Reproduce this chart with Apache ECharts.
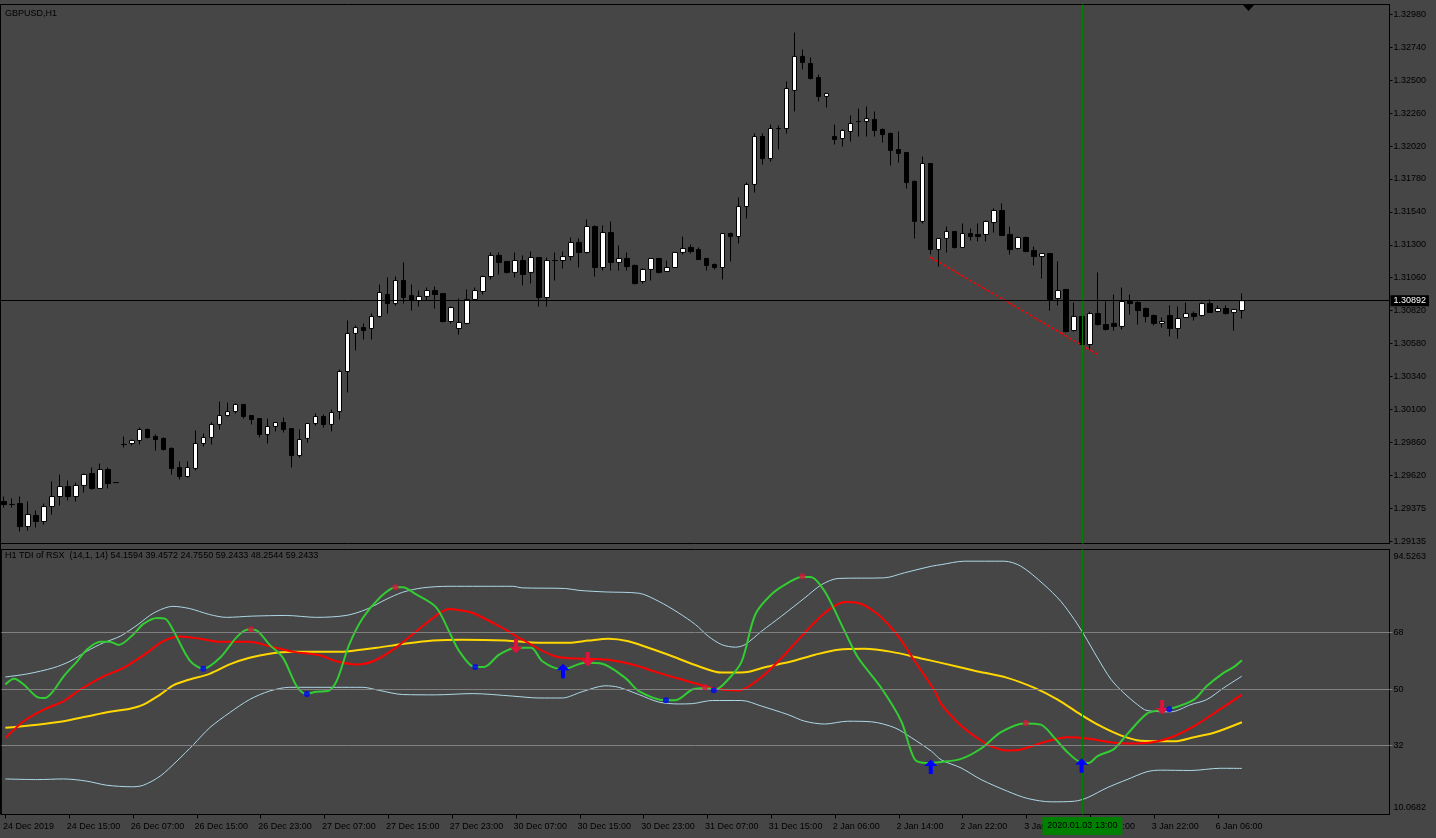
<!DOCTYPE html>
<html>
<head>
<meta charset="utf-8">
<title>GBPUSD,H1</title>
<script src="https://cdn.jsdelivr.net/npm/echarts@6/dist/echarts.min.js"></script>
<style>
  html, body { margin: 0; padding: 0; background: #464646; }
  #chart { width: 1436px; height: 838px; }
</style>
</head>
<body>
<div id="chart"></div>
<script>
// candles: [open, close, low, high]
const candles = [
  [1.29427,1.29405,1.29383,1.29463],[1.29405,1.29405,1.29383,1.29449],[1.29412,1.29244,1.29208,1.29463],[1.29244,1.29332,1.29215,1.29427],
  [1.29325,1.29281,1.29237,1.29361],[1.29281,1.29390,1.29259,1.29412],[1.29390,1.29463,1.29332,1.29573],[1.29463,1.29536,1.29398,1.29624],
  [1.29536,1.29463,1.29434,1.29580],[1.29463,1.29544,1.29427,1.29565],[1.29544,1.29624,1.29492,1.29631],[1.29631,1.29522,1.29514,1.29675],
  [1.29522,1.29660,1.29522,1.29704],[1.29660,1.29558,1.29522,1.29675],[1.29565,1.29565,1.29565,1.29565],[1.29843,1.29843,1.29821,1.29901],
  [1.29850,1.29872,1.29835,1.29879],[1.29872,1.29952,1.29843,1.29967],[1.29952,1.29894,1.29887,1.29959],[1.29901,1.29879,1.29799,1.29916],
  [1.29887,1.29806,1.29799,1.29894],[1.29814,1.29668,1.29624,1.29821],[1.29675,1.29609,1.29587,1.29719],[1.29609,1.29675,1.29602,1.29719],
  [1.29668,1.29850,1.29653,1.29945],[1.29850,1.29894,1.29828,1.29923],[1.29894,1.29989,1.29843,1.30003],[1.29989,1.30054,1.29952,1.30156],
  [1.30054,1.30083,1.30047,1.30149],[1.30083,1.30135,1.30069,1.30142],[1.30135,1.30047,1.30032,1.30135],[1.30054,1.30025,1.29989,1.30054],
  [1.30032,1.29916,1.29894,1.30032],[1.29916,1.29974,1.29850,1.30032],[1.29974,1.30003,1.29938,1.30003],[1.30003,1.29952,1.29930,1.30040],
  [1.29959,1.29762,1.29675,1.29959],[1.29762,1.29879,1.29748,1.29952],[1.29887,1.29996,1.29857,1.29996],[1.29996,1.30047,1.29981,1.30069],
  [1.30047,1.29989,1.29967,1.30061],[1.29989,1.30076,1.29938,1.30098],[1.30083,1.30375,1.30025,1.30390],[1.30375,1.30653,1.30222,1.30747],
  [1.30653,1.30696,1.30529,1.30711],[1.30696,1.30674,1.30609,1.30726],[1.30689,1.30777,1.30609,1.30798],[1.30777,1.30952,1.30769,1.31010],
  [1.30937,1.30871,1.30798,1.31061],[1.30871,1.31039,1.30857,1.31068],[1.31039,1.30915,1.30871,1.31171],[1.30930,1.30893,1.30820,1.31010],
  [1.30893,1.30923,1.30850,1.30966],[1.30923,1.30966,1.30893,1.30988],[1.30966,1.30937,1.30835,1.30995],[1.30944,1.30740,1.30733,1.30944],
  [1.30740,1.30842,1.30726,1.30850],[1.30689,1.30733,1.30645,1.30908],[1.30726,1.30901,1.30718,1.30974],[1.30901,1.30966,1.30893,1.30988],
  [1.30959,1.31068,1.30937,1.31076],[1.31068,1.31222,1.31047,1.31244],[1.31222,1.31171,1.31083,1.31244],[1.31178,1.31098,1.31090,1.31178],
  [1.31098,1.31185,1.31061,1.31244],[1.31185,1.31083,1.31003,1.31222],[1.31098,1.31207,1.31017,1.31251],[1.31207,1.30915,1.30850,1.31207],
  [1.30915,1.31185,1.30850,1.31207],[1.31185,1.31185,1.31039,1.31244],[1.31185,1.31214,1.31127,1.31251],[1.31214,1.31317,1.31185,1.31353],
  [1.31317,1.31244,1.31134,1.31346],[1.31244,1.31433,1.31236,1.31484],[1.31433,1.31134,1.31068,1.31441],[1.31134,1.31389,1.31112,1.31441],
  [1.31389,1.31171,1.31112,1.31470],[1.31171,1.31200,1.31112,1.31295],[1.31200,1.31141,1.31112,1.31244],[1.31149,1.31017,1.31010,1.31156],
  [1.31032,1.31120,1.31017,1.31127],[1.31120,1.31200,1.31039,1.31200],[1.31200,1.31098,1.31090,1.31200],[1.31105,1.31134,1.31105,1.31185],
  [1.31134,1.31244,1.31134,1.31244],[1.31244,1.31273,1.31229,1.31360],[1.31280,1.31251,1.31236,1.31302],[1.31265,1.31192,1.31192,1.31280],
  [1.31200,1.31149,1.31112,1.31200],[1.31156,1.31134,1.31120,1.31163],[1.31134,1.31382,1.31047,1.31382],[1.31382,1.31360,1.31178,1.31389],
  [1.31360,1.31579,1.31309,1.31645],[1.31579,1.31740,1.31492,1.31754],[1.31740,1.32090,1.31681,1.32112],[1.32090,1.31929,1.31886,1.32112],
  [1.31929,1.32148,1.31907,1.32177],[1.32148,1.32148,1.31995,1.32170],[1.32148,1.32440,1.32112,1.32491],[1.32426,1.32674,1.32272,1.32849],
  [1.32674,1.32630,1.32579,1.32725],[1.32622,1.32513,1.32506,1.32666],[1.32520,1.32382,1.32345,1.32542],[1.32382,1.32404,1.32301,1.32404],
  [1.32090,1.32068,1.32032,1.32177],[1.32075,1.32134,1.32017,1.32141],[1.32126,1.32185,1.32053,1.32243],[1.32199,1.32199,1.32090,1.32294],
  [1.32199,1.32221,1.32090,1.32309],[1.32214,1.32134,1.32090,1.32272],[1.32141,1.32104,1.32046,1.32148],[1.32112,1.31988,1.31878,1.32119],
  [1.31995,1.31966,1.31900,1.32126],[1.31973,1.31754,1.31710,1.31973],[1.31762,1.31470,1.31346,1.31769],[1.31470,1.31893,1.31455,1.31944],
  [1.31893,1.31265,1.31229,1.31893],[1.31265,1.31346,1.31141,1.31346],[1.31346,1.31397,1.31244,1.31433],[1.31397,1.31280,1.31273,1.31397],
  [1.31280,1.31382,1.31280,1.31455],[1.31382,1.31360,1.31331,1.31419],[1.31375,1.31360,1.31324,1.31455],[1.31375,1.31470,1.31324,1.31477],
  [1.31462,1.31550,1.31389,1.31565],[1.31550,1.31368,1.31368,1.31601],[1.31375,1.31265,1.31229,1.31433],[1.31273,1.31353,1.31265,1.31360],
  [1.31353,1.31251,1.31244,1.31360],[1.31258,1.31214,1.31149,1.31287],[1.31214,1.31236,1.31054,1.31236],[1.31236,1.30901,1.30820,1.31236],
  [1.30908,1.30966,1.30857,1.31178],[1.30974,1.30667,1.30660,1.30974],[1.30674,1.30777,1.30667,1.30879],[1.30777,1.30572,1.30572,1.30777],
  [1.30572,1.30798,1.30536,1.30813],[1.30798,1.30718,1.30711,1.31098],[1.30718,1.30682,1.30674,1.30886],[1.30726,1.30704,1.30674,1.30937],
  [1.30704,1.30886,1.30682,1.30988],[1.30886,1.30871,1.30791,1.30937],[1.30879,1.30820,1.30718,1.30893],[1.30835,1.30777,1.30733,1.30842],
  [1.30784,1.30726,1.30711,1.30791],[1.30726,1.30740,1.30696,1.30769],[1.30784,1.30689,1.30631,1.30857],[1.30689,1.30762,1.30616,1.30850],
  [1.30769,1.30798,1.30769,1.30879],[1.30798,1.30777,1.30747,1.30813],[1.30784,1.30871,1.30777,1.30879],[1.30871,1.30806,1.30806,1.30901],
  [1.30813,1.30835,1.30806,1.30857],[1.30835,1.30798,1.30791,1.30857],[1.30806,1.30828,1.30674,1.30828],[1.30820,1.30892,1.30762,1.30944]
];

const priceTicks = [1.3298, 1.3274, 1.3250, 1.3226, 1.3202, 1.3178, 1.3154, 1.3130, 1.3106, 1.3082, 1.3058, 1.3034, 1.3010, 1.2986, 1.2962, 1.29375, 1.29135];
const lastPrice = 1.30892;
const trendLine = [[116, 1.31209], [137, 1.30499]];

const timeLabels = ['24 Dec 2019', '24 Dec 15:00', '26 Dec 07:00', '26 Dec 15:00', '26 Dec 23:00', '27 Dec 07:00', '27 Dec 15:00',
  '27 Dec 23:00', '30 Dec 07:00', '30 Dec 15:00', '30 Dec 23:00', '31 Dec 07:00', '31 Dec 15:00', '2 Jan 06:00', '2 Jan 14:00',
  '2 Jan 22:00', '3 Jan 06:00', '3 Jan 14:00', '3 Jan 22:00', '6 Jan 06:00'];
const crossBar = 135;
const crossLabel = '2020.01.03 13:00';

// TDI of RSX, [bar, value]
const rsxMax = 94.5263;
const rsxMin = 10.0682;
const levels = [68, 50, 32];
const upperBand = [[0,53.9],[2.8,54.9],[6,56.8],[8.1,58.9],[10.2,62.1],[12.3,64.8],[14.4,66.9],[16.5,70.4],[18.6,74.3],[21,76.4],
  [23.1,75.7],[25.6,73.8],[27.7,72.9],[31,73.3],[35.2,73.5],[39,72.9],[42.7,73.5],[45.2,75.4],[47.7,78.6],[49.8,80.9],[52.3,82.3],
  [55.6,82.8],[63.6,82.8],[64.8,82.3],[70.2,82.1],[71.9,81.5],[75.2,81.0],[79.4,80.6],[81.9,78.0],[84.4,74.3],[86.5,70.6],[88.1,66.9],
  [89.8,64.2],[91.5,63.4],[92.7,64.2],[94.8,68.5],[97.3,73.3],[100.2,79.1],[102.3,83.3],[104.4,85.3],[110.2,85.5],[112.7,87.1],
  [116.1,89.2],[117.3,89.7],[120.2,90.8],[125.2,90.8],[127.3,89.2],[130.2,83.3],[132.3,78.0],[134,72.2],[135.2,67.4],[136.9,60.0],
  [138.6,53.1],[140.2,48.8],[141.9,45.1],[143.1,43.2],[146.1,42.8],[148.6,45.1],[150.6,46.7],[152.7,50.4],[155,54.16]];
const lowerBand = [[0,21.4],[4,21.2],[7.3,21.4],[10.2,20.7],[12.7,19.4],[15.9,18.9],[17.3,19.4],[19.4,22.3],[21.5,27.1],[23.6,32.4],
  [25.6,37.7],[28.1,42.5],[30.6,46.7],[33.1,49.4],[35.6,50.6],[41.5,50.6],[44.8,50.6],[46.9,49.6],[49.8,48.3],[53.9,48.2],[58.6,48.6],
  [63.6,47.8],[66.9,47.2],[69.8,47.2],[72.3,49.2],[75.2,51.1],[76.9,50.6],[79.4,48.3],[81.9,45.9],[84.4,45.3],[86.1,45.4],[88.6,46.4],
  [92.3,46.4],[94.8,44.6],[98.1,41.9],[100.2,39.8],[102.7,38.9],[105.6,39.8],[108.6,39.6],[111.5,37.7],[113.6,34.5],[116.1,30.2],
  [117.3,27.5],[119.8,24.9],[122.3,21.2],[125.6,17.5],[128.1,15.2],[131.1,14.1],[134,14.3],[135.6,15.4],[138.1,18.6],[140.6,21.2],
  [143.1,23.7],[144.8,24.2],[148.6,24.1],[152.3,24.8],[155,24.76]];
const baseLine = [[0,37.7],[4,38.7],[7.3,39.8],[10.2,41.3],[13.1,42.8],[15.6,43.8],[17.3,45.1],[19.4,48.3],[21.1,51.3],[23.1,53.1],
  [25.6,54.9],[28.1,57.9],[30.6,60.0],[33.1,61.3],[36.1,61.9],[41.5,61.9],[43.1,62.1],[46.5,63.2],[49.8,64.4],[53.6,65.5],[57.3,65.8],
  [62.7,65.5],[66.9,64.8],[70.6,64.8],[73.1,65.5],[75.6,66.1],[78.1,65.3],[80.6,63.2],[83.6,60.5],[86.9,57.3],[89.8,55.3],[92.7,55.4],
  [95.2,57.0],[98.6,58.9],[101.5,61.0],[104.4,62.6],[107.7,62.9],[111.1,61.9],[114.8,59.8],[117.3,58.4],[121.5,55.9],[125.6,53.6],
  [129,50.4],[131.9,46.7],[134.8,41.9],[137.3,38.2],[139.8,35.3],[142.3,33.6],[146.5,33.4],[149,34.7],[151.5,36.1],[155,39.46]];
const signalLine = [[0,34.5],[2.3,39.8],[4.8,43.5],[7.3,46.2],[9.4,49.9],[12.3,54.1],[14.8,56.8],[17.3,60.8],[19.8,65.3],[21.9,66.8],
  [24.4,66.1],[26.9,65.1],[30.6,65.1],[33.1,63.7],[36.1,61.9],[39.4,60.8],[41.5,58.9],[44,57.9],[46.1,58.9],[48.6,62.6],[51.1,67.6],
  [53.6,72.7],[55.6,75.6],[57.3,75.0],[58.6,74.3],[61.9,70.1],[64.8,65.8],[69,60.4],[72.3,59.7],[75.2,59.5],[78.6,57.9],[81.9,55.2],
  [85.2,52.8],[88.6,50.4],[91.9,49.6],[94.4,53.1],[96.9,58.9],[99.8,66.9],[102.7,74.3],[105.2,77.8],[106.9,77.5],[109.4,73.8],
  [111.9,66.9],[114,58.9],[116.5,49.4],[117.3,45.3],[119.4,39.3],[121.5,35.0],[123.6,31.8],[125.6,30.5],[126.9,30.6],[128.6,31.8],
  [130.6,33.4],[133.1,34.7],[135.6,34.3],[139,32.9],[140.6,32.7],[144,33.2],[146.5,35.0],[149,38.2],[151.9,43.0],[155,48.25]];
const rsxLine = [[0,51.5],[1.1,53.3],[2.3,51.5],[4,47.5],[5,47.2],[6,49.4],[7.3,54.1],[9,58.9],[10.2,62.6],[11.9,65.1],[13.1,65.1],
  [14.2,64.1],[16.1,67.6],[17.3,70.8],[19,72.7],[20,72.5],[21.1,68.5],[23.1,59.2],[24.8,56.5],[26.9,60.0],[29,66.6],[30.4,69.0],
  [31.5,68.7],[33.1,64.2],[34.8,60.0],[36.5,51.0],[37.7,48.5],[39,49.2],[40.4,49.4],[41.5,52.5],[43.1,64.2],[44.8,72.7],[46.9,79.1],
  [48.9,82.5],[49.8,82.5],[51.5,80.2],[54,76.1],[55.6,68.5],[56.9,62.1],[58.8,57.1],[60,57.1],[61.9,61.0],[64,63.2],[65.9,63.2],
  [67.3,58.9],[69.8,56.3],[72.7,58.4],[74.8,58.1],[77.7,53.6],[79.4,49.4],[82.7,46.5],[84,46.5],[86.1,49.9],[87.7,50.4],[89,49.9],
  [90.6,53.1],[92.3,58.9],[94,73.8],[96.1,80.4],[98.1,83.9],[99.8,85.8],[100.9,85.8],[102.7,81.2],[105.2,68.5],[106.9,60.0],
  [109.8,50.4],[112.3,39.8],[114,27.6],[115.6,26.5],[117.3,26.8],[119.8,27.8],[122.3,31.1],[124.8,36.3],[127.7,39.1],[129.8,38.7],
  [131.5,34.5],[133.1,30.0],[134.8,26.7],[135.8,26.5],[136.9,28.7],[139,31.0],[140.6,35.6],[143.1,42.2],[144.8,43.3],[146.5,44.1],
  [149,46.7],[150.6,51.0],[152.7,55.2],[154,57.1],[155,59.24]];
const peakDots = [[30.8,69.1],[48.9,82.5],[87.7,50.6],[99.9,86.0],[127.9,39.2]];
const troughDots = [[24.8,56.5],[37.8,48.5],[58.9,57.1],[82.8,46.5],[88.8,49.7],[145.9,43.6]];
const buyArrows = [[69.9,55.9],[116,25.4],[134.9,25.8]];
const sellArrows = [[64,63.7],[73,59.5],[145,44.2]];

const slots = 174;
const cats = Array.from({ length: slots }, (_, i) => String(i));
const tickBars = timeLabels.map((_, i) => i * 8);
// MT4 starts each time label a touch left of its tick
const labelBars = tickBars.map(v => v - 0.3);
// extreme labels of the sub-window sit just inside its frame
const rsxLabelPos = [92.4, 68, 50, 32, 12.3];
const font = '"Liberation Sans", Arial, sans-serif';

// arrow outline around its anchor point, pointing up
const arrowUp = [[0, -7], [6.5, -0.5], [2, -0.5], [2, 7.5], [-2, 7.5], [-2, -0.5], [-6.5, -0.5]];

const chart = echarts.init(document.getElementById('chart'));

const rsxLabel = v => v > 90 ? rsxMax.toFixed(4) : v < 15 ? rsxMin.toFixed(4) : String(v);

function arrowSeries(data, dir, color) {
  return {
    type: 'custom', xAxisIndex: 1, yAxisIndex: 1, data: data, z: 5, silent: true,
    renderItem: (params, api) => {
      const p = api.coord([api.value(0), api.value(1)]);
      return {
        type: 'polygon',
        shape: { points: arrowUp.map(([dx, dy]) => [p[0] + dx, p[1] + dy * dir]) },
        style: { fill: color }
      };
    }
  };
}

const option = {
  backgroundColor: '#464646',
  animation: false,
  textStyle: { fontFamily: font },
  grid: [
    { left: -2.5, top: 4.5, width: 1392, height: 539, show: true, borderColor: '#000', borderWidth: 1 },
    { left: -2.5, top: 549.5, width: 1392, height: 265, show: true, borderColor: '#000', borderWidth: 1 }
  ],
  xAxis: [
    { type: 'category', gridIndex: 0, data: cats, boundaryGap: true,
      axisLine: { show: false }, axisTick: { show: false }, axisLabel: { show: false }, splitLine: { show: false } },
    { type: 'value', gridIndex: 1, min: -0.5, max: slots - 0.5,
      axisLine: { show: true, onZero: false, lineStyle: { color: '#000' } },
      axisTick: { show: true, length: 4, customValues: tickBars, lineStyle: { color: '#000' } },
      axisLabel: { customValues: labelBars, formatter: v => timeLabels[Math.round(v / 8)] || '', align: 'left',
        color: '#000', fontSize: 9, fontFamily: font, margin: 8 },
      splitLine: { show: false } }
  ],
  yAxis: [
    { type: 'value', gridIndex: 0, position: 'right', min: 1.291204, max: 1.330529,
      axisLine: { show: true, onZero: false, lineStyle: { color: '#000' } },
      axisTick: { show: true, length: 3, customValues: priceTicks, lineStyle: { color: '#000' } },
      axisLabel: { customValues: priceTicks, formatter: v => v.toFixed(5), color: '#000', fontSize: 9, fontFamily: font, margin: 4 },
      splitLine: { show: false } },
    { type: 'value', gridIndex: 1, position: 'right', min: rsxMin, max: rsxMax,
      axisLine: { show: true, onZero: false, lineStyle: { color: '#000' } },
      axisTick: { show: true, length: 3, customValues: levels, lineStyle: { color: '#808080' } },
      axisLabel: { customValues: rsxLabelPos, formatter: rsxLabel, color: '#000', fontSize: 9, fontFamily: font, margin: 4 },
      splitLine: { show: false } }
  ],
  graphic: [
    { type: 'text', left: 5, top: 9, style: { text: 'GBPUSD,H1', fill: '#000', font: '9px ' + font } },
    { type: 'text', left: 5, top: 551, style: { text: 'H1 TDI of RSX  (14,1, 14) 54.1594 39.4572 24.7550 59.2433 48.2544 59.2433', fill: '#000', font: '9px ' + font } },
    { type: 'line', shape: { x1: 0.5, y1: 4.5, x2: 0.5, y2: 814.5 }, style: { stroke: '#000', lineWidth: 1 } },
    { type: 'polygon', shape: { points: [[1243, 5], [1254, 5], [1248.5, 11]] }, style: { fill: '#000' } }
  ],
  series: [
    { type: 'candlestick', xAxisIndex: 0, yAxisIndex: 0, barWidth: 5, data: candles,
      itemStyle: { color: '#fff', color0: '#000', borderColor: '#000', borderColor0: '#000', borderWidth: 1 },
      markLine: { symbol: 'none', silent: true, animation: false, precision: 5,
        data: [
          [{ coord: [trendLine[0][0], trendLine[0][1]], lineStyle: { color: '#ff0000', type: [3, 2], width: 1.5 }, label: { show: false } },
           { coord: [trendLine[1][0], trendLine[1][1]] }],
          { xAxis: crossBar, lineStyle: { color: '#008000', type: 'solid', width: 1 }, label: { show: false } }
        ] } },
    { name: 'bid', type: 'line', xAxisIndex: 0, yAxisIndex: 0, data: [], showSymbol: false,
      markLine: { symbol: 'none', silent: true, animation: false, precision: 5,
        data: [{ yAxis: lastPrice, lineStyle: { color: '#000', type: 'solid', width: 1 },
          label: { show: true, position: 'end', formatter: lastPrice.toFixed(5), color: '#fff', backgroundColor: '#000',
            fontSize: 9, fontFamily: font, padding: [1, 3], distance: 1 } }] } },
    { name: 'upper', type: 'line', xAxisIndex: 1, yAxisIndex: 1, data: upperBand, showSymbol: false, smooth: 0.3,
      lineStyle: { color: '#add8e6', width: 1 },
      markLine: { symbol: 'none', silent: true, label: { show: false },
        lineStyle: { color: '#808080', type: 'solid', width: 1 }, data: levels.map(v => ({ yAxis: v })) } },
    { name: 'lower', type: 'line', xAxisIndex: 1, yAxisIndex: 1, data: lowerBand, showSymbol: false, smooth: 0.3,
      lineStyle: { color: '#add8e6', width: 1 } },
    { name: 'base', type: 'line', xAxisIndex: 1, yAxisIndex: 1, data: baseLine, showSymbol: false, smooth: 0.3,
      lineStyle: { color: '#ffd700', width: 2 } },
    { name: 'signal', type: 'line', xAxisIndex: 1, yAxisIndex: 1, data: signalLine, showSymbol: false, smooth: 0.3,
      lineStyle: { color: '#ff0000', width: 2 } },
    { name: 'rsx', type: 'line', xAxisIndex: 1, yAxisIndex: 1, data: rsxLine, showSymbol: false, smooth: 0.3,
      lineStyle: { color: '#32cd32', width: 2 },
      markLine: { symbol: 'none', silent: true, label: { show: false },
        lineStyle: { color: '#008000', type: 'solid', width: 1 }, data: [{ xAxis: crossBar }] } },
    { type: 'scatter', xAxisIndex: 1, yAxisIndex: 1, data: peakDots, symbol: 'circle', symbolSize: 6, z: 5,
      itemStyle: { color: '#dc143c' } },
    { type: 'scatter', xAxisIndex: 1, yAxisIndex: 1, data: troughDots, symbol: 'circle', symbolSize: 6, z: 5,
      itemStyle: { color: '#0000ff' } },
    arrowSeries(buyArrows, 1, '#0000ff'),
    arrowSeries(sellArrows, -1, '#dc143c')
  ]
};
chart.setOption(option);

// crosshair time box under the axis
const cx = chart.convertToPixel({ xAxisIndex: 1 }, crossBar);
chart.setOption({
  graphic: option.graphic.concat([{
    type: 'group', x: cx, y: 817, z: 100,
    children: [
      { type: 'rect', z: 100, shape: { x: -40, y: 0, width: 80, height: 18 }, style: { fill: '#008000' } },
      { type: 'text', z: 101, x: 0, y: 9, style: { text: crossLabel, fill: '#000', font: '9px ' + font, align: 'center', verticalAlign: 'middle' } }
    ]
  }])
});
</script>
</body>
</html>
